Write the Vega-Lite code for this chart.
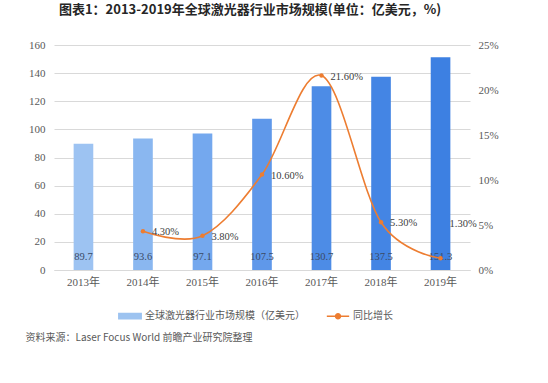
{
  "$schema": "https://vega.github.io/schema/vega-lite/v6.json",
  "autosize": {"type": "none"},
  "width": 416,
  "height": 225,
  "padding": {"left": 54, "top": 45, "right": 78, "bottom": 113},
  "background": "white",
  "title": {
    "text": "图表1：2013-2019年全球激光器行业市场规模(单位：亿美元，%)",
    "font": "Noto Sans CJK SC",
    "fontSize": 13,
    "fontWeight": "bold",
    "color": "#262626",
    "anchor": "middle",
    "dx": -12,
    "offset": 22
  },
  "config": {
    "view": {"stroke": null},
    "axis": {"labelFont": "'Liberation Serif', 'Noto Sans CJK SC'", "labelFontSize": 11, "labelColor": "#595959", "labelOverlap": false}
  },
  "data": {
    "values": [
      {"year": "2013年", "value": 89.7, "growth": null, "series": "同比增长"},
      {"year": "2014年", "value": 93.6, "growth": 4.3, "series": "同比增长"},
      {"year": "2015年", "value": 97.1, "growth": 3.8, "series": "同比增长"},
      {"year": "2016年", "value": 107.5, "growth": 10.6, "series": "同比增长"},
      {"year": "2017年", "value": 130.7, "growth": 21.6, "series": "同比增长"},
      {"year": "2018年", "value": 137.5, "growth": 5.3, "series": "同比增长"},
      {"year": "2019年", "value": 151.3, "growth": 1.3, "series": "同比增长"}
    ]
  },
  "encoding": {
    "x": {
      "field": "year",
      "type": "ordinal",
      "sort": null,
      "scale": {"paddingInner": 0.67, "paddingOuter": 0.33},
      "axis": {
        "labelAngle": 0,
        "ticks": false,
        "domainColor": "#D9D9D9",
        "labelPadding": 6,
        "title": "资料来源：Laser Focus World 前瞻产业研究院整理",
        "titleFont": "Noto Sans CJK SC",
        "titleFontSize": 10,
        "titleFontWeight": "normal",
        "titleColor": "#595959",
        "titleAnchor": "start",
        "titleAlign": "left",
        "titleX": -29,
        "titleY": 67,
        "titleBaseline": "middle"
      }
    }
  },
  "layer": [
    {
      "layer": [
        {
          "mark": {"type": "bar"},
          "encoding": {
            "y": {
              "field": "value",
              "type": "quantitative",
              "scale": {"domain": [0, 160], "nice": false},
              "axis": {
                "title": null,
                "values": [0, 20, 40, 60, 80, 100, 120, 140, 160],
                "labelOverlap": false,
                "ticks": false,
                "domain": false,
                "gridColor": "#D9D9D9",
                "labelPadding": 9
              }
            },
            "fill": {
              "field": "year",
              "type": "ordinal",
              "sort": null,
              "legend": null,
              "scale": {
                "domain": ["2013年", "2014年", "2015年", "2016年", "2017年", "2018年", "2019年"],
                "range": ["#9DC3F2", "#8AB7F0", "#74A8EE", "#5F98EA", "#4D8CE6", "#4485E4", "#3D80E2"]
              }
            }
          }
        },
        {
          "mark": {"type": "text", "baseline": "middle", "dy": -13, "font": "Liberation Serif", "fontSize": 10.5, "color": "#3B4A66"},
          "encoding": {
            "y": {
              "datum": 0,
              "type": "quantitative",
              "scale": {"domain": [0, 160], "nice": false},
              "axis": {
                "title": null,
                "values": [0, 20, 40, 60, 80, 100, 120, 140, 160],
                "labelOverlap": false,
                "ticks": false,
                "domain": false,
                "gridColor": "#D9D9D9",
                "labelPadding": 9
              }
            },
            "text": {"field": "value", "type": "quantitative", "format": ".1f"}
          }
        }
      ]
    },
    {
      "transform": [{"filter": "datum.growth != null"}],
      "layer": [
        {
          "mark": {"type": "line", "interpolate": "cardinal", "strokeWidth": 1.6, "point": {"filled": true, "size": 20}},
          "encoding": {
            "y": {
              "field": "growth",
              "type": "quantitative",
              "scale": {"domain": [0, 25], "nice": false},
              "axis": {
                "orient": "right",
                "title": null,
                "values": [0, 5, 10, 15, 20, 25],
                "labelExpr": "datum.value + '%'",
                "grid": false,
                "ticks": false,
                "domain": false,
                "labelPadding": 8
              }
            },
            "color": {
              "field": "series",
              "type": "nominal",
              "scale": {"domain": ["全球激光器行业市场规模（亿美元）", "同比增长"], "range": ["#9DC3F0", "#ED7D31"]},
              "legend": {
                "title": null,
                "orient": "none",
                "legendX": 64,
                "legendY": 259,
                "direction": "horizontal",
                "labelFont": "Noto Sans CJK SC",
                "labelFontSize": 10,
                "labelColor": "#595959",
                "labelOffset": 3,
                "columnPadding": 18,
                "symbolSize": 500,
                "encode": {
                  "symbols": {
                    "update": {
                      "shape": {"signal": "datum.value === '同比增长' ? 'M-1,0H1M0.22,0A0.22,0.22 0 1 1 -0.22,0A0.22,0.22 0 1 1 0.22,0' : 'M-1,-0.24H1V0.24H-1Z'"},
                      "fill": {"signal": "datum.value === '同比增长' ? '#ED7D31' : '#9DC3F0'"},
                      "stroke": {"signal": "datum.value === '同比增长' ? '#ED7D31' : 'transparent'"},
                      "strokeWidth": {"value": 1.5},
                      "opacity": {"value": 1}
                    }
                  }
                }
              }
            }
          }
        },
        {
          "transform": [{"filter": "datum.year != '2019年'"}],
          "mark": {"type": "text", "align": "left", "baseline": "middle", "dx": 9, "dy": 1, "font": "Liberation Serif", "fontSize": 10.5, "color": "#404040", "text": {"expr": "format(datum.growth, '.2f') + '%'"}},
          "encoding": {
            "y": {"field": "growth", "type": "quantitative"}
          }
        },
        {
          "transform": [{"filter": "datum.year == '2019年'"}],
          "mark": {"type": "text", "align": "left", "baseline": "middle", "dx": 9, "dy": -34, "font": "Liberation Serif", "fontSize": 10.5, "color": "#404040", "text": {"expr": "format(datum.growth, '.2f') + '%'"}},
          "encoding": {
            "y": {"field": "growth", "type": "quantitative"}
          }
        }
      ]
    }
  ],
  "resolve": {"scale": {"y": "independent"}}
}
